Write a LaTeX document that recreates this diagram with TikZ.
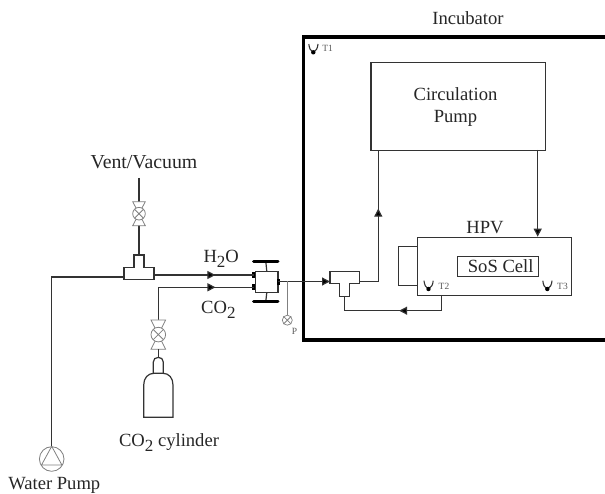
\documentclass[tikz,border=0pt]{standalone}
\usepackage{fontspec}
\setmainfont{Liberation Serif}
\usetikzlibrary{arrows.meta,decorations.markings}
\definecolor{ln}{gray}{0.2}
\definecolor{vl}{gray}{0.5}
\tikzset{
  pipe/.style={draw=ln,line width=1.2pt},
  box/.style={draw=ln,line width=1.2pt,fill=white,inner sep=0pt,anchor=north west},
  tipped/.style={-{Triangle[length=8pt,width=8pt,fill=black]}},
  midarrow/.style={postaction={decorate},decoration={markings,mark=at position #1 with {\arrow{Triangle[length=8pt,width=8pt,fill=black]}}}},
  lab/.style={font=\fontsize{18.6}{20}\selectfont,text=black!85,inner sep=0pt,anchor=base},
  tinylab/.style={font=\fontsize{9.5}{10}\selectfont,text=black!65,inner sep=0pt},
  valve/.style={draw=vl,line width=0.8pt,fill=white},
  thin grey/.style={draw=vl,line width=0.8pt},
  wall/.style={draw=black,line width=3.8pt,line cap=rect},
  bar/.style={draw=black,line width=3pt,line cap=round},
  port/.style={fill=black}
}
\newcommand{\thermo}[2]{% centre x, top y
  \draw[line width=1.1pt,draw=ln] (#1-4.5,#2) .. controls (#1-4,#2+4) and (#1-3,#2+7) .. (#1,#2+8.5) .. controls (#1+3,#2+7) and (#1+4.3,#2+4) .. (#1+4.7,#2);
  \fill[black] (#1,#2+8.3) circle (2.2);
}
\newcommand{\myvalve}[4]{% x, y centre, half-height, half-width
  \draw[valve] (#1-#4,#2-#3) -- (#1+#4,#2-#3) -- (#1-#4,#2+#3) -- (#1+#4,#2+#3) -- cycle;
  \draw[valve] (#1,#2) circle (#4);
  \draw[valve] (#1,#2)++(45:#4) -- ++(225:2*#4) (#1,#2)++(135:#4) -- ++(-45:2*#4);
}
\newcommand{\subtwo}{\raisebox{-5pt}{\fontsize{17}{18}\selectfont 2}}
\begin{document}
\begin{tikzpicture}[x=1pt,y=-1pt]
\useasboundingbox (0,0) rectangle (605,494);
% incubator wall
\begin{scope}
\clip (0,0) rectangle (605,494);
\draw[wall] (610,37) -- (303.5,37) -- (303.5,340) -- (610,340);
\end{scope}
\node[lab] (incub) at (468,25) {Incubator};
% circulation pump
\node[box,minimum width=174.5pt,minimum height=87.5pt] (cp) at (370.3,62.3) {};
\node[lab] (cpa) at (455.5,100.5) {Circulation};
\node[lab] (cpb) at (455.5,122.7) {Pump};
% HPV
\node[box,minimum width=20pt,minimum height=39pt] (side) at (397.7,246) {};
\node[box,minimum width=153.7pt,minimum height=58.3pt] (hpv) at (417,236.7) {};
\node[lab] (hpvl) at (485,234) {HPV};
\node[box,minimum width=81.3pt,minimum height=20pt] (sos) at (456.7,255.7) {};
\node[lab] (sosl) at (500.7,272.3) {SoS Cell};
% thermometers
\thermo{313.3}{44}
\node[tinylab] (t1) at (327.7,48.3) {T1};
\thermo{428.5}{280.7}
\node[tinylab] (t2) at (444,286) {T2};
\thermo{547.3}{280.7}
\node[tinylab] (t3) at (562.5,286) {T3};
% right-hand T piece
\draw[pipe,fill=white] (330,271.7) -- (359.3,271.7) -- (359.3,283.7) -- (349.7,283.7) -- (349.7,296.3) -- (339.7,296.3) -- (339.7,283.7) -- (330,283.7) -- cycle;
\coordinate (trr) at (359.3,281.3);
\coordinate (trb) at (344.3,296.3);
\coordinate (trl) at (330,281.5);
\coordinate (cpl) at (378.3,150);
\coordinate (cpr) at (537.7,150);
\coordinate (hpvt) at (537.7,236.7);
\coordinate (hpvb) at (441.7,295);
\draw[pipe,midarrow=0.61] (trr) -- (378.3,281.3) -- (cpl);
\draw[pipe,tipped] (cpr) -- (hpvt);
\draw[pipe,midarrow=0.457] (hpvb) -- (441.7,310.7) -- (344.3,310.7) -- (trb);
% left-hand T piece
\draw[pipe,fill=white] (124,267.3) -- (134,267.3) -- (134,255) -- (144,255) -- (144,267.3) -- (154,267.3) -- (154,279.3) -- (124,279.3) -- cycle;
\coordinate (tll) at (124,277);
\coordinate (tlt) at (139,255);
\coordinate (tlr) at (155,275);
% vent valve
\coordinate (vtop) at (139,178);
\draw[pipe] (vtop) -- (tlt);
\myvalve{139}{213.7}{12}{6.3}
% water pump
\node[draw=vl,line width=0.8pt,circle,minimum size=24.6pt,inner sep=0pt] (wp) at (51.7,459) {};
\draw[thin grey] (wp.north) -- (41.5,465) -- (61.9,465) -- cycle;
\draw[pipe] (tll) -- (51.7,277) -- (wp.north);
% mixer
\node[box,minimum width=22.3pt,minimum height=20.7pt] (mx) at (255,271) {};
\coordinate (mxl1) at (254,275);
\coordinate (mxl2) at (254,287.3);
\coordinate (mxr) at (278,281.5);
\coordinate (bt) at (265.8,261.3);
\coordinate (bb) at (265.8,301.3);
\draw[pipe] (bt) -- (mx.north);
\draw[pipe] (bb) -- (mx.south);
\draw[bar] (253.5,261.3) -- (278,261.3);
\draw[bar] (253.5,301.3) -- (278,301.3);
\fill[port] (252.3,272.3) rectangle (255.3,278);
\fill[port] (252.3,284.5) rectangle (255.3,290.2);
\fill[port] (277.3,278.7) rectangle (280,284.7);
% H2O and CO2 lines
\draw[pipe,midarrow=0.61] (tlr) -- (mxl1);
\coordinate (cvt) at (158.3,320);
\draw[pipe,midarrow=0.70] (cvt) -- (158.3,287.3) -- (mxl2);
\myvalve{158.3}{334.6}{14.6}{7.3}
\coordinate (cvb) at (158.3,349.2);
\coordinate (cyl) at (158.3,357.5);
\draw[pipe] (cvb) -- (cyl);
% output line and pressure gauge
\draw[pipe,tipped] (mxr) -- (trl);
\node[draw=vl,line width=0.7pt,circle,minimum size=10pt,inner sep=0pt] (pg) at (287.3,320.2) {};
\draw[thin grey] (287.3,281.5) -- (pg.north);
\draw[thin grey] (pg.north east) -- (pg.south west) (pg.north west) -- (pg.south east);
\node[tinylab] (pl) at (294.5,331) {P};
% cylinder
\draw[pipe] (153.3,373.3) -- (153.3,362) .. controls (153.3,359) and (155.5,357.4) .. (158.3,357.4) .. controls (161.1,357.4) and (163.3,359) .. (163.3,362) -- (163.3,373.3);
\draw[pipe] (143.7,417.3) -- (143.7,385) .. controls (143.7,378) and (148,373.3) .. (154,373.3) -- (163,373.3) .. controls (169,373.3) and (173,378) .. (173,385) -- (173,417.3) -- cycle;
% labels
\node[lab,font=\fontsize{19.8}{21}\selectfont] (vent) at (144,168.3) {Vent/Vacuum};
\node[lab,anchor=base west] (hto) at (203.3,262.3) {H\subtwo O};
\node[lab,anchor=base west] (cot) at (201,314) {CO\subtwo};
\node[lab] (cyll) at (169,446.7) {CO\subtwo\ cylinder};
\node[lab] (wpl) at (54.3,489) {Water Pump};
\end{tikzpicture}
\end{document}
